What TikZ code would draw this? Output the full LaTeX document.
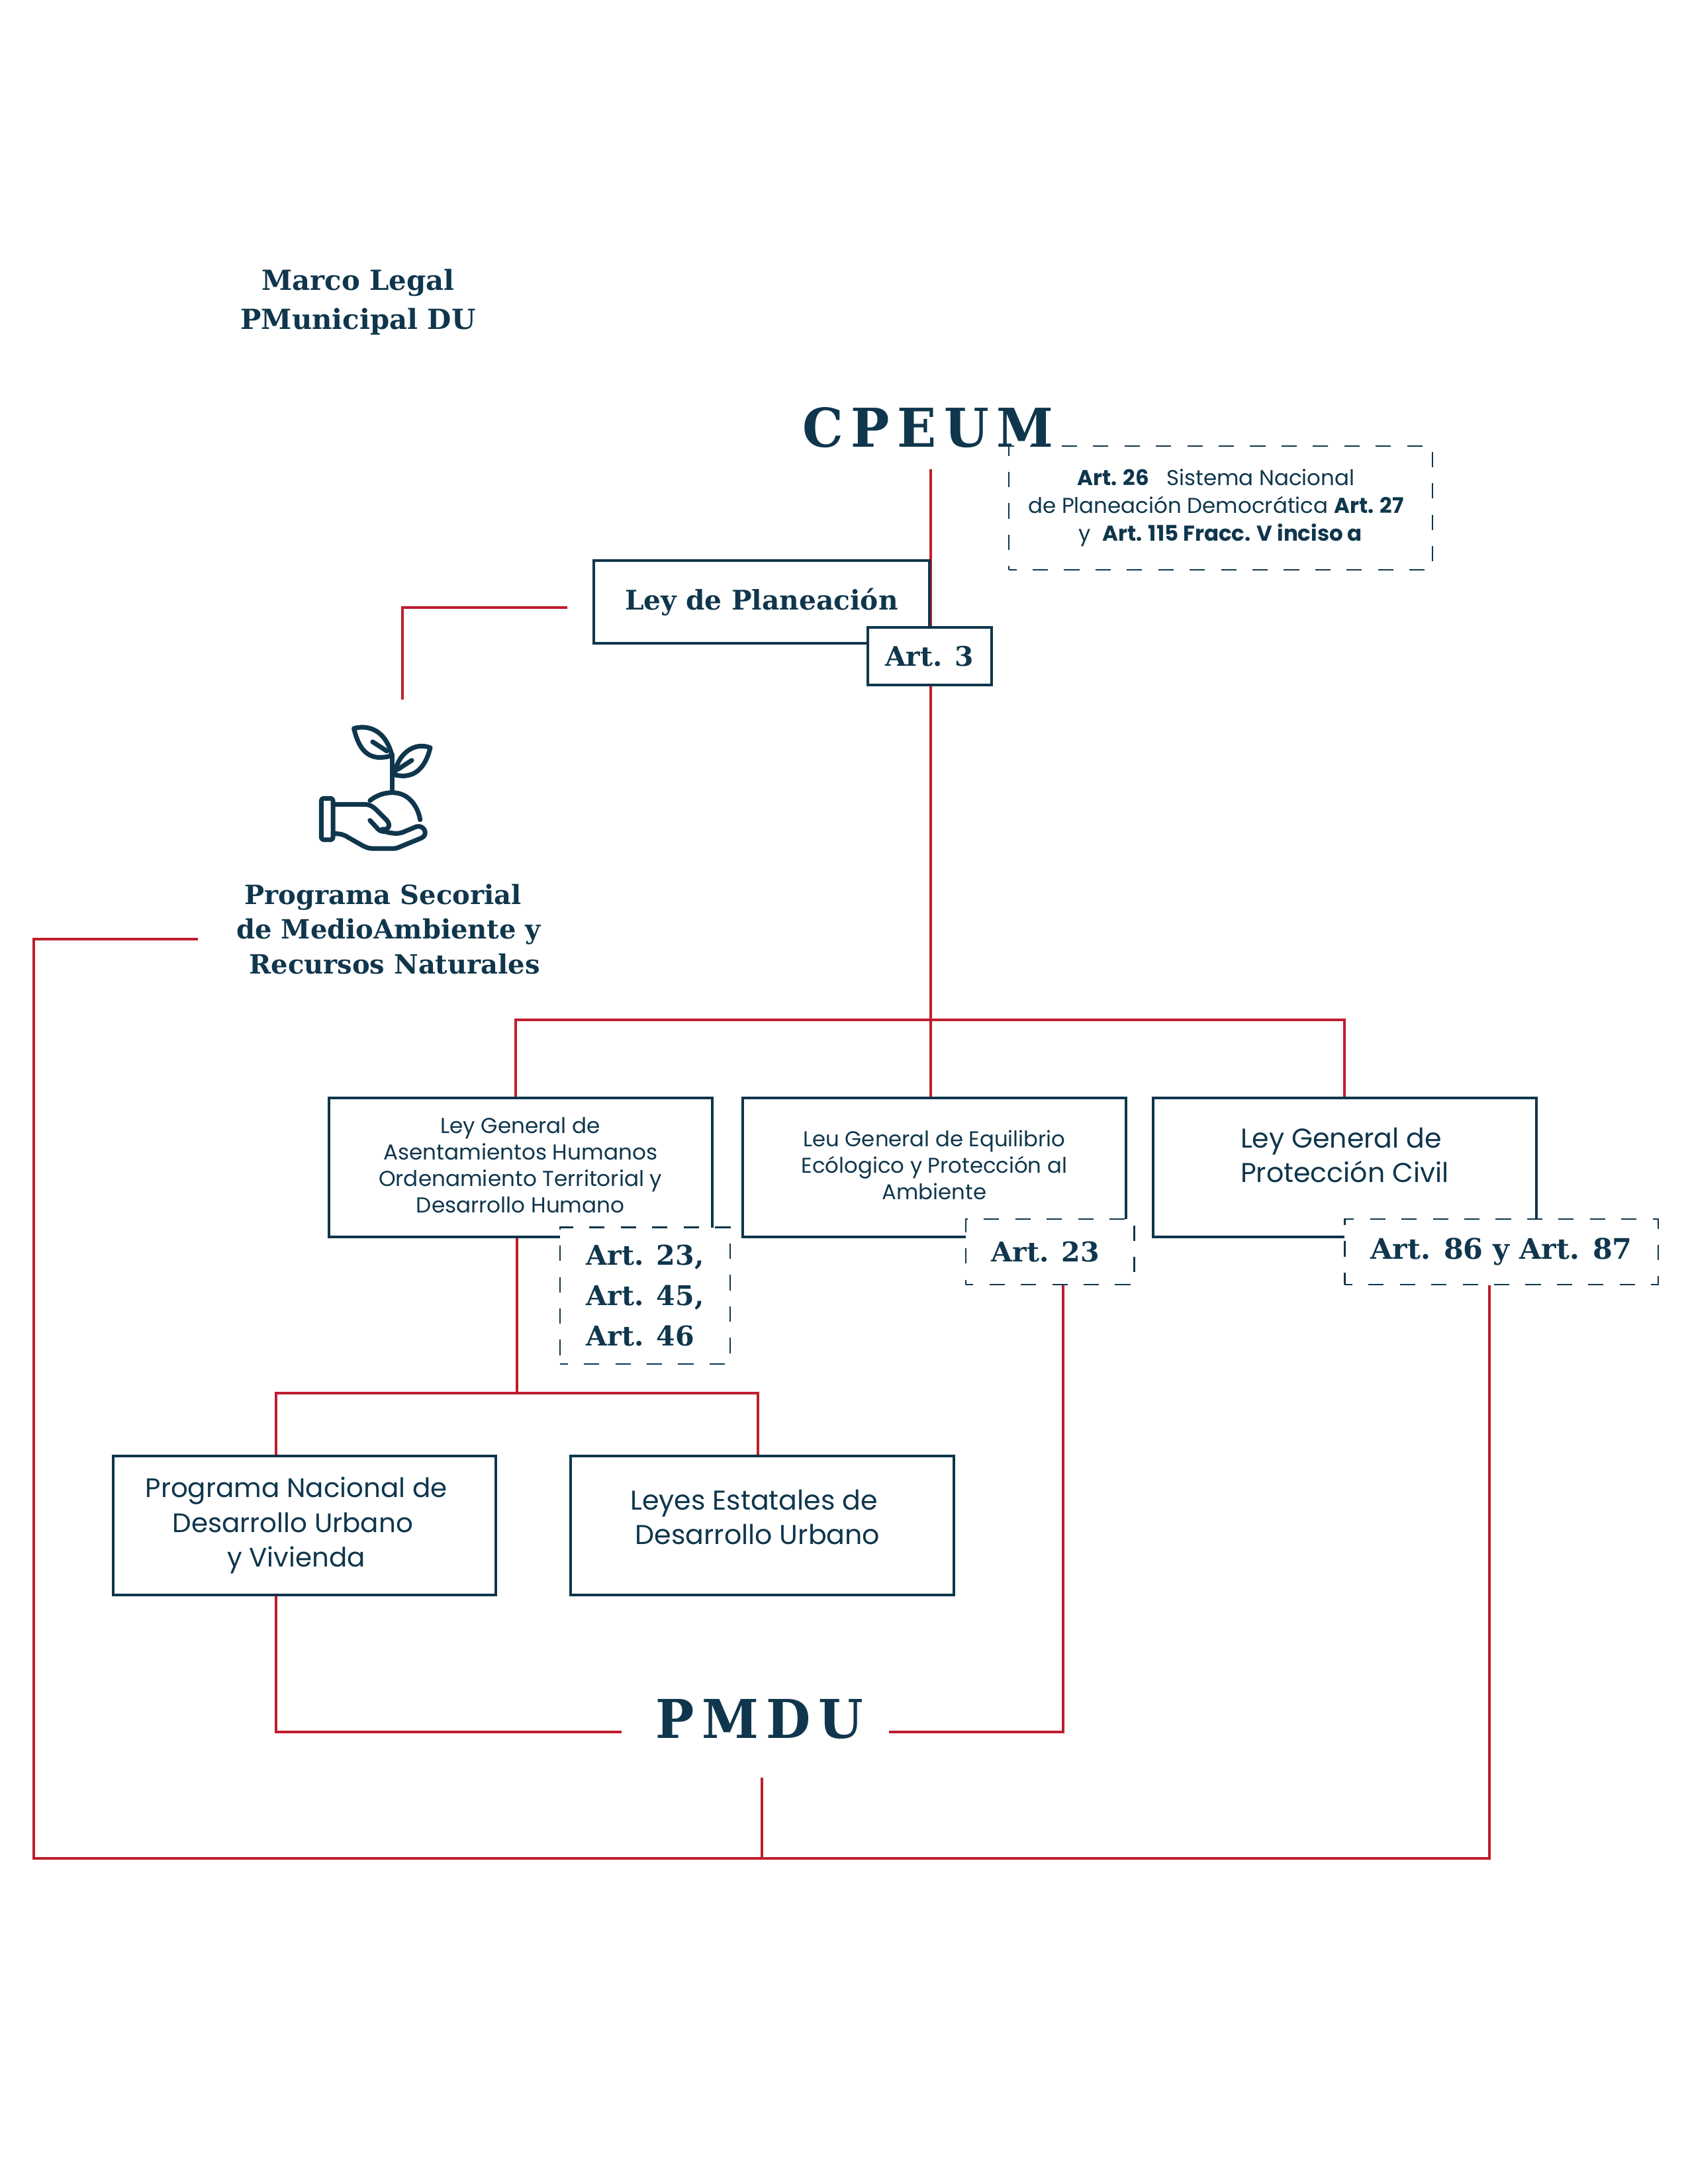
\documentclass[tikz,border=0pt]{standalone}
\usepackage{fontspec}
\usepackage{xcolor}
\usetikzlibrary{backgrounds}
\setmainfont{Poppins}
\newfontfamily\slabfont{DejaVu Serif}
\newfontfamily\slabwide{DejaVu Serif}[FakeStretch=0.96,LetterSpace=14]
\definecolor{navy}{HTML}{0F364C}
\definecolor{redline}{HTML}{BE1E2D}

\begin{document}
\begin{tikzpicture}[
  x=0.02105cm, y=-0.02105cm,
  every node/.style={text=navy, inner sep=0pt},
  connector/.style={draw=redline, line width=1.15pt},
  lawbox/.style={draw=navy, fill=white, line width=1.15pt, align=center,
    minimum width=5.79cm, minimum height=2.105cm},
  artbox/.style={draw=navy, fill=white, line width=0.65pt, dash pattern=on 6.6pt off 6.9pt,
    dash phase=3.3pt, font=\slabfont\bfseries\fontsize{11.7}{17.4}\selectfont},
  solidart/.style={draw=navy, fill=white, line width=1.15pt,
    font=\slabfont\bfseries\fontsize{11.6}{17.4}\selectfont},
  heading/.style={align=center, font=\slabfont\bfseries\fontsize{11.9}{16.8}\selectfont},
  icon/.style={draw=navy, line width=2pt, line cap=round, line join=round}
]
  \useasboundingbox (0,0) rectangle (1211.4,1567.7);

  \node[heading] (titulo) at (257,217) {Marco Legal\\PMunicipal DU};
  \node[font=\slabwide\bfseries\fontsize{23}{28}\selectfont] (cpeum) at (666,307) {CPEUM};
  \node[draw=navy, line width=0.65pt, dash pattern=on 6.6pt off 6.9pt, dash phase=3.3pt,
    minimum width=6.4cm, minimum height=1.873cm, align=center,
    font=\fontsize{9.25}{12}\selectfont] (sistema) at (876,364.5)
    {\hspace*{-4pt}\textbf{Art. 26}\ \ \ Sistema Nacional\\
     \hspace*{-4pt}de Planeación Democrática \textbf{Art. 27}\\
     y\ \ \textbf{Art. 115 Fracc. V inciso a}};

  \node[lawbox, minimum width=5.07cm, minimum height=1.25cm,
    font=\slabfont\bfseries\fontsize{11.6}{14}\selectfont] (planeacion) at (546.5,432) {Ley de Planeación};
  \node[solidart, minimum width=1.87cm, minimum height=0.87cm] (artTres) at (667,471) {Art. 3};

  \node[heading, font=\slabfont\bfseries\fontsize{11.4}{15}\selectfont] (secorial) at (279,667)
    {\hspace*{-5pt}Programa Secorial\\de MedioAmbiente y\\\hspace*{5pt}Recursos Naturales};

  \node[lawbox, font=\fontsize{9.3}{11.4}\selectfont] (asentamientos) at (373.5,838)
    {Ley General de\\Asentamientos Humanos\\Ordenamiento Territorial y\\Desarrollo Humano\\[-9.4pt]\mbox{}};
  \node[lawbox, font=\fontsize{9.2}{11.4}\selectfont] (equilibrio) at (670.5,838)
    {Leu General de Equilibrio\\Ecólogico y Protección al\\Ambiente\\[-9.4pt]\mbox{}};
  \node[lawbox, font=\fontsize{11.7}{14.7}\selectfont] (proteccion) at (965,838)
    {\hspace*{-3pt}Ley General de\\Protección Civil\\[-3.9pt]\mbox{}};

  \node[artbox, align=left, minimum width=2.568cm, minimum height=2.063cm] (artAsent) at (463,930)
    {Art. 23,\\Art. 45,\\Art. 46};
  \node[artbox, minimum width=2.547cm, minimum height=0.99cm] (artEquil) at (753.5,898.5) {\hspace*{-4pt}Art. 23};
  \node[artbox, minimum width=4.736cm, minimum height=0.99cm,
    font=\slabfont\bfseries\fontsize{12.2}{17.4}\selectfont] (artProt) at (1077.5,898.5) {Art. 86 y Art. 87};

  \node[lawbox, font=\fontsize{11.5}{15}\selectfont] (nacional) at (218.5,1095)
    {\hspace*{-7pt}Programa Nacional de\\\hspace*{-10pt}Desarrollo Urbano\\\hspace*{-7pt}y Vivienda};
  \node[lawbox, font=\fontsize{11.7}{15}\selectfont] (estatales) at (547,1095)
    {\hspace*{-7pt}Leyes Estatales de\\\hspace*{-4pt}Desarrollo Urbano\\[-7.8pt]\mbox{}};
  \node[font=\slabwide\bfseries\fontsize{23}{28}\selectfont] (pmdu) at (545,1234) {PMDU};

  \coordinate (cpeumEnd) at (668,337);
  \coordinate (busC) at (668,732);
  \coordinate (busL) at (370,732);
  \coordinate (busR) at (965,732);
  \coordinate (planeacionEnd) at (407,436);
  \coordinate (iconEnd) at (289,502);
  \coordinate (secorialEnd) at (142,674);
  \coordinate (frameL) at (24,1334);
  \coordinate (frameR) at (1069,1334);
  \coordinate (estadoBus) at (371,1000);
  \coordinate (nacionalBus) at (198,1000);
  \coordinate (estatalesBus) at (544,1000);
  \coordinate (pmduL) at (446,1243);
  \coordinate (pmduR) at (638,1243);
  \coordinate (pmduS) at (547,1276);
  \coordinate (equilDrop) at (763,1243);

  \begin{scope}[on background layer]
    \draw[connector] (cpeumEnd) -- (cpeumEnd |- artTres.north);
    \draw[connector] (busC |- artTres.south) -- (busC);
    \draw[connector] (busL |- asentamientos.north) -- (busL) -- (busR) -- (busR |- proteccion.north);
    \draw[connector] (busC) -- (busC |- equilibrio.north);
    \draw[connector] (planeacionEnd) -| (iconEnd);
    \draw[connector] (secorialEnd) -| (frameL) -- (frameR) -- (frameR |- artProt.south);
    \draw[connector] (estadoBus |- asentamientos.south) -- (estadoBus);
    \draw[connector] (nacionalBus |- nacional.north) -- (nacionalBus) -- (estatalesBus) -- (estatalesBus |- estatales.north);
    \draw[connector] (nacionalBus |- nacional.south) |- (pmduL);
    \draw[connector] (pmduR) -- (equilDrop) -- (equilDrop |- artEquil.south);
    \draw[connector] (pmduS) -- (pmduS |- frameL);
  \end{scope}

  \begin{scope}[shift={(190,494.1)}, x=0.003333cm, y=-0.003333cm]
    \draw[icon] (578,465) -- (578,300);
    \draw[icon] (578,305) .. controls (555,210) and (490,160) .. (405,182)
      .. controls (430,290) and (480,335) .. (578,305);
    \draw[icon] (490,243) -- (555,285);
    \draw[icon] (590,393) .. controls (600,300) and (680,240) .. (752,270)
      .. controls (730,360) and (680,415) .. (590,393);
    \draw[icon] (668,327) -- (605,368);
    \draw[icon] (478,510) .. controls (520,475) and (590,460) .. (640,490)
      .. controls (680,515) and (700,560) .. (706,597);
    \draw[icon, rounded corners=1pt] (257,500) rectangle (310,688);
    \draw[icon] (310,527) -- (450,527) .. controls (480,527) and (495,540) .. (510,555)
      -- (555,600) .. controls (575,625) and (560,645) .. (535,640);
    \draw[icon] (478,600) -- (515,640) .. controls (525,650) and (535,650) .. (550,652)
      .. controls (580,660) and (605,662) .. (625,655) -- (690,628)
      .. controls (725,620) and (745,665) .. (712,680) -- (610,722)
      .. controls (600,726) and (595,728) .. (585,728) -- (495,728)
      .. controls (475,728) and (465,725) .. (445,715) -- (380,678)
      .. controls (360,665) and (345,660) .. (310,660);
  \end{scope}
\end{tikzpicture}
\end{document}
